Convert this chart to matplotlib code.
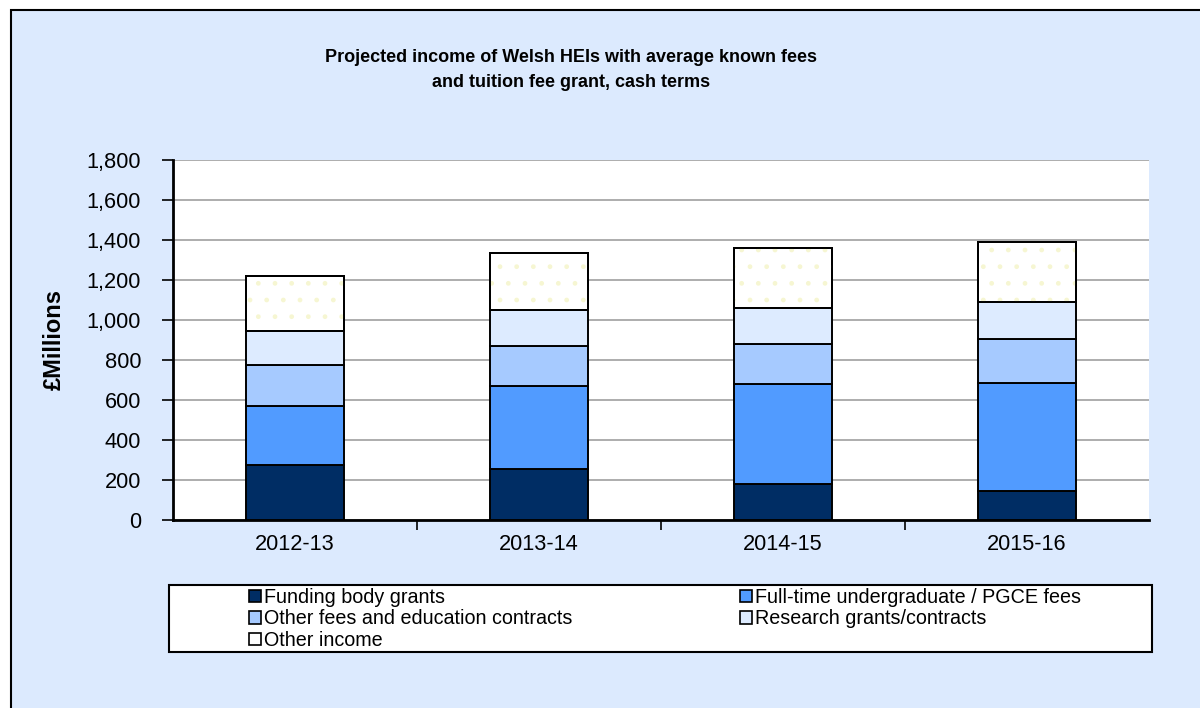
import matplotlib
matplotlib.use("Agg")
import matplotlib.pyplot as plt
from matplotlib.patches import Rectangle, Patch
from matplotlib.ticker import FuncFormatter, MultipleLocator

# Income components (GBP millions) by academic year
years = ["2012-13", "2013-14", "2014-15", "2015-16"]
funding_body_grants = [273, 255, 178, 145]
ft_ug_pgce_fees = [299, 415, 500, 540]
other_fees_contracts = [203, 202, 204, 220]
research_grants = [170, 178, 178, 185]
other_income = [275, 283, 298, 300]

series_names = [
    "Funding body grants",
    "Full-time undergraduate / PGCE fees",
    "Other fees and education contracts",
    "Research grants/contracts",
    "Other income",
]
series_values = [funding_body_grants, ft_ug_pgce_fees, other_fees_contracts,
                 research_grants, other_income]
series_colors = ["#002D64", "#519BFF", "#A6CAFF", "#DDEBFF", "#FFFFFF"]

title = "Projected income of Welsh HEIs with average known fees\nand tuition fee grant, cash terms"
ylabel = "£Millions"

plt.rcParams["font.family"] = ["Liberation Sans", "DejaVu Sans"]

W, H = 1200, 708
fig = plt.figure(figsize=(W / 100, H / 100), dpi=100, facecolor="white")

# Outer chart frame with pale blue fill
fig.patches.append(Rectangle((11 / W, -0.1), 1.2, (H - 10) / H + 0.1,
                             transform=fig.transFigure, facecolor="#DCEAFE",
                             edgecolor="black", linewidth=1.5, zorder=-10))

ax = fig.add_axes([173 / W, 1 - 520 / H, (1149 - 173) / W, (520 - 160) / H])
ax.set_facecolor("white")

x = list(range(len(years)))
bottoms = [0] * len(years)
for name, vals, col in zip(series_names, series_values, series_colors):
    ax.bar(x, vals, width=0.40, bottom=bottoms, color=col, edgecolor="black",
           linewidth=1.4, zorder=3, label=name)
    if name == "Other income":
        ax.bar(x, vals, width=0.40, bottom=bottoms, color="none",
               edgecolor="#F6F6D2", hatch=".", linewidth=0, zorder=3.5)
        ax.bar(x, vals, width=0.40, bottom=bottoms, color="none",
               edgecolor="black", linewidth=1.4, zorder=4)
    bottoms = [b + v for b, v in zip(bottoms, vals)]

ax.set_xlim(-0.5, len(years) - 0.5)
ax.set_ylim(0, 1800)
ax.yaxis.set_major_locator(MultipleLocator(200))
ax.yaxis.set_major_formatter(FuncFormatter(lambda v, p: f"{int(v):,}"))
ax.grid(axis="y", color="#A0A0A0", linewidth=1.2, zorder=0)
ax.set_axisbelow(True)

ax.set_xticks(x)
ax.set_xticklabels(years)
ax.set_xticks([i + 0.5 for i in range(len(years) - 1)], minor=True)
ax.tick_params(axis="x", which="major", length=0, labelsize=15.7, pad=10)
ax.tick_params(axis="x", which="minor", length=7, width=1.2, direction="out")
ax.tick_params(axis="y", length=8, width=1.2, direction="out", labelsize=15.7, pad=15)

for s in ("top", "right"):
    ax.spines[s].set_visible(False)
for s in ("left", "bottom"):
    ax.spines[s].set_linewidth(2)

ax.set_ylabel(ylabel, fontsize=17, fontweight="bold")
ax.yaxis.set_label_coords(-0.1096, 0.5)

fig.text(571 / W, 1 - 70 / H, title, ha="center", va="center",
         fontsize=13, fontweight="bold", linespacing=1.6)

# Legend box
fig.patches.append(Rectangle((169 / W, 1 - 652 / H), (1152 - 169) / W, (652 - 585) / H,
                             transform=fig.transFigure, facecolor="white",
                             edgecolor="black", linewidth=1.5, zorder=1))
handles = [Patch(facecolor=c, edgecolor="black", linewidth=1.2) for c in series_colors]
# row-wise filling across two columns
order = [0, 2, 4, 1, 3]
fig.legend([handles[i] for i in order], [series_names[i] for i in order],
           loc="upper left", ncol=2,
           bbox_to_anchor=(249 / W, 1 - 588 / H), frameon=False,
           fontsize=14.2, handlelength=0.6, handleheight=0.6, handletextpad=0.15,
           labelspacing=0.12, columnspacing=8.5, borderaxespad=0, borderpad=0)

fig.savefig("out.png", dpi=100, facecolor="white")
